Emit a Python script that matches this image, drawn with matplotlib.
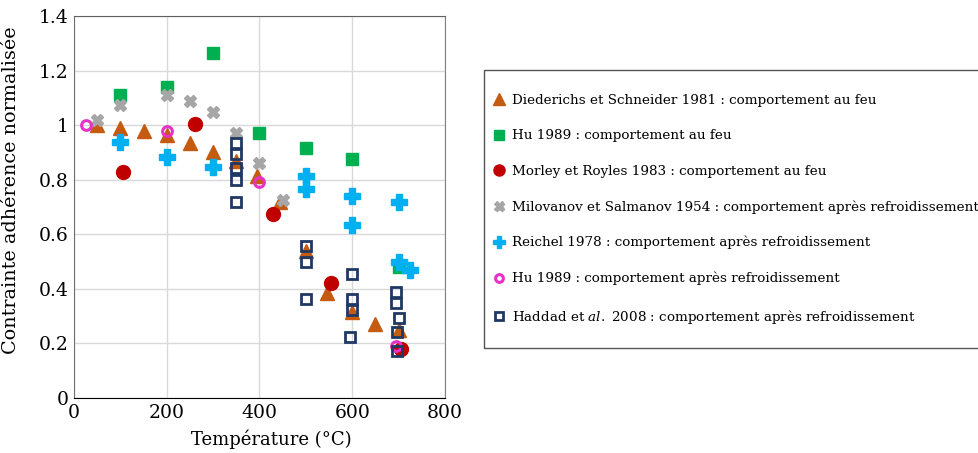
import matplotlib.pyplot as plt
from matplotlib.patches import Rectangle

plt.rcParams["font.family"] = ["DejaVu Serif"]
plt.rcParams["mathtext.fontset"] = "dejavuserif"

# Diederichs et Schneider 1981 (au feu)
diederichs_T = [50, 100, 150, 200, 250, 300, 350, 395, 445, 500, 545, 600, 650, 700]
diederichs_v = [1.0, 0.99, 0.98, 0.965, 0.935, 0.90, 0.87, 0.815, 0.72, 0.54, 0.385, 0.315, 0.27, 0.25]

# Hu 1989 (au feu)
hu_feu_T = [100, 200, 300, 400, 500, 600, 700]
hu_feu_v = [1.11, 1.14, 1.265, 0.97, 0.915, 0.875, 0.48]

# Morley et Royles 1983 (au feu)
morley_T = [105, 260, 430, 555, 705]
morley_v = [0.83, 1.005, 0.675, 0.42, 0.18]

# Milovanov et Salmanov 1954 (après refroidissement)
milovanov_T = [50, 100, 200, 250, 300, 350, 400, 450]
milovanov_v = [1.02, 1.075, 1.11, 1.09, 1.05, 0.97, 0.86, 0.725]

# Reichel 1978 (après refroidissement)
reichel_T = [100, 200, 300, 500, 500, 600, 600, 700, 700, 725]
reichel_v = [0.94, 0.885, 0.848, 0.812, 0.767, 0.742, 0.634, 0.719, 0.50, 0.47]

# Hu 1989 (après refroidissement)
hu_ref_T = [25, 200, 400, 695]
hu_ref_v = [1.0, 0.98, 0.79, 0.19]

# Haddad et al. 2008 (après refroidissement)
haddad_T = [350, 350, 350, 350, 350, 500, 500, 500, 600, 600, 600, 595, 695, 695, 700, 697, 697]
haddad_v = [0.933, 0.894, 0.842, 0.80, 0.72, 0.557, 0.499, 0.364, 0.455, 0.362, 0.321, 0.224,
            0.388, 0.35, 0.293, 0.242, 0.173]

labels = [
    "Diederichs et Schneider 1981 : comportement au feu",
    "Hu 1989 : comportement au feu",
    "Morley et Royles 1983 : comportement au feu",
    "Milovanov et Salmanov 1954 : comportement après refroidissement",
    "Reichel 1978 : comportement après refroidissement",
    "Hu 1989 : comportement après refroidissement",
    "Haddad et $\\mathit{al.}$ 2008 : comportement après refroidissement",
]

series = [
    (diederichs_T, diederichs_v, dict(marker="^", color="#C55A11", ms=10)),
    (hu_feu_T, hu_feu_v, dict(marker="s", color="#00B050", ms=9)),
    (morley_T, morley_v, dict(marker="o", color="#C00000", ms=10)),
    (milovanov_T, milovanov_v, dict(marker="X", color="#A6A6A6", ms=9)),
    (reichel_T, reichel_v, dict(marker="P", color="#00B0F0", ms=11)),
    (hu_ref_T, hu_ref_v, dict(marker="o", color="#E632C8", ms=7, mfc="none", mew=2.2)),
    (haddad_T, haddad_v, dict(marker="s", color="#1F3864", ms=7.5, mfc="none", mew=2)),
]

W, H = 979, 453
fig = plt.figure(figsize=(W / 100, H / 100), dpi=100)
ax = fig.add_axes([74 / W, 1 - 398 / H, (445 - 74) / W, (398 - 16) / H])

handles = []
for (T, v, style), lab in zip(series, labels):
    (h,) = ax.plot(T, v, ls="none", label=lab, **style)
    handles.append(h)

ax.set_xlim(0, 800)
ax.set_ylim(0, 1.4)
ax.set_xticks([0, 200, 400, 600, 800])
ax.set_yticks([0, 0.2, 0.4, 0.6, 0.8, 1.0, 1.2, 1.4])
ax.set_yticklabels(["0", "0.2", "0.4", "0.6", "0.8", "1", "1.2", "1.4"])
ax.tick_params(length=0, labelsize=13.5, pad=4)
ax.grid(color="#D9D9D9", lw=1)
ax.set_axisbelow(True)
ax.spines["bottom"].set_color("black")
ax.spines["left"].set_color("#707070")
ax.spines["top"].set_color("#606060")
ax.spines["right"].set_color("#808080")
ax.set_xlabel("Température (°C)", fontsize=13)
ax.set_ylabel("Contrainte adhérence normalisée", fontsize=13.8)
ax.xaxis.set_label_coords(0.531, -0.083)
ax.yaxis.set_label_coords(-0.145, 0.545)

# legend frame (runs past the right edge, as in the original)
fig.patches.append(Rectangle((484 / W, 1 - 348 / H), 600 / W, (348 - 70) / H,
                             transform=fig.transFigure, fill=False,
                             edgecolor="#555555", lw=1))
leg = fig.legend(
    handles, labels,
    loc="upper left", bbox_to_anchor=(493 / W, 1 - 94 / H),
    frameon=False, fontsize=9.7, borderaxespad=0, borderpad=0,
    labelspacing=1.66, handlelength=0.9, handletextpad=0.5, markerscale=0.8,
)

fig.savefig("out.png", dpi=100)
